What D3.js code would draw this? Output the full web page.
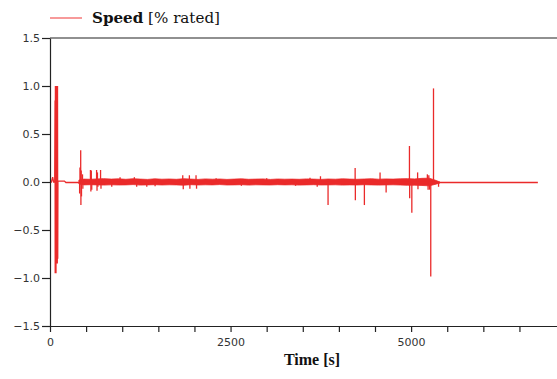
<!DOCTYPE html>
<html>
<head>
<meta charset="utf-8">
<script src="https://cdn.jsdelivr.net/npm/d3@7"></script>
<style>
  html, body { margin: 0; padding: 0; background: #fff; }
  svg { display: block; }
</style>
</head>
<body>
<svg id="chart" width="557" height="379"></svg>
<script>
// ---------------- DATA ----------------
const yTickValues = [-1.5, -1.0, -0.5, 0.0, 0.5, 1.0, 1.5];
const xTickValues = [0, 500, 1000, 1500, 2000, 2500, 3000, 3500, 4000, 4500, 5000, 5500, 6000, 6500];
const xLabelValues = [0, 2500, 5000];
const seriesName = "Speed";
const seriesUnit = "[% rated]";
const xTitle = "Time";
const xUnit = "[s]";

// main trace (time in s, speed in % rated): start-up transient and idle tail
const traceTime = [0, 20, 37, 50, 65, 70, 72, 75, 78, 80, 83, 86, 89, 92, 95, 98, 101, 104, 107, 110,
  130, 200, 220, 400, 5380, 5400, 6755];
const traceSpeed = [0, 0, 0.05, 0, 0, 0.85, -0.95, 1.0, -0.9, 0.98, -0.95, 1.0, -0.85, 0.98, -0.85, 0.9, -0.85, 1.0, -0.8, 0.01,
  0.01, 0.01, -0.005, -0.005, -0.005, -0.005, -0.005];

// envelope of the fast speed ripple during operation
const bandTime = [400, 470, 560, 650, 740, 850, 950, 1050, 1150, 1250, 1350, 1450, 1550, 1650, 1750, 1850,
  1950, 2050, 2150, 2250, 2350, 2450, 2550, 2650, 2750, 2850, 2950, 3050, 3150, 3250, 3350, 3450,
  3550, 3650, 3750, 3850, 3950, 4050, 4150, 4250, 4350, 4450, 4550, 4650, 4750, 4850, 4950, 5050,
  5150, 5250, 5330, 5400];
const bandUpper = [0.02, 0.03, 0.028, 0.032, 0.035, 0.03, 0.033, 0.028, 0.034, 0.03, 0.027, 0.033, 0.029, 0.031, 0.028, 0.034,
  0.03, 0.027, 0.032, 0.029, 0.031, 0.027, 0.03, 0.033, 0.028, 0.03, 0.032, 0.027, 0.031, 0.029, 0.03, 0.028,
  0.032, 0.03, 0.027, 0.031, 0.029, 0.033, 0.03, 0.028, 0.031, 0.034, 0.029, 0.032, 0.03, 0.033, 0.035, 0.032,
  0.038, 0.04, 0.02, 0.0];
const bandLower = [-0.02, -0.03, -0.028, -0.03, -0.032, -0.029, -0.031, -0.03, -0.027, -0.032, -0.03, -0.028, -0.031, -0.029, -0.03, -0.033,
  -0.028, -0.031, -0.029, -0.03, -0.027, -0.031, -0.03, -0.028, -0.032, -0.029, -0.03, -0.031, -0.028, -0.03, -0.029, -0.032,
  -0.03, -0.028, -0.031, -0.03, -0.029, -0.032, -0.03, -0.031, -0.028, -0.03, -0.032, -0.03, -0.029, -0.031, -0.034, -0.033,
  -0.036, -0.04, -0.025, -0.01];

// individual speed excursions
const spikeTime = [410, 415, 425, 428, 432, 436, 450, 455,
  560, 566, 572, 578, 645, 651, 657, 663, 700, 706,
  855, 970, 1168, 1200, 1340, 1455,
  1838, 1845, 1930, 1937, 2022, 2029,
  2300, 2650, 3000, 3400, 3600, 3700, 3745,
  3850, 4225, 4228, 4353, 4570, 4654,
  4977, 4980, 5010, 5090, 5095, 5225, 5235, 5245, 5255,
  5272, 5310, 5380];
const spikeSpeed = [-0.12, 0.15, 0.33, -0.24, 0.12, -0.15, 0.08, -0.07,
  0.125, -0.1, 0.12, -0.08, 0.125, -0.09, 0.1, -0.05, 0.125, -0.07,
  -0.05, 0.05, 0.05, -0.05, -0.05, -0.045,
  0.07, -0.076, 0.07, -0.07, 0.07, -0.07,
  0.04, -0.04, 0.04, -0.04, 0.045, -0.05, 0.06,
  -0.24, 0.145, -0.19, -0.24, 0.1, -0.11,
  0.375, -0.17, -0.32, 0.1, -0.076, 0.08, -0.08, 0.07, -0.08,
  -0.985, 0.975, -0.05];

// ---------------- CHART ----------------
const svg = d3.select("#chart");
const lineColor = "#ea2a2a";

const x = d3.scaleLinear().domain([0, 7020]).range([50, 557]);
const y = d3.scaleLinear().domain([-1.5, 1.5]).range([326, 38]);

// top frame line
svg.append("line")
  .attr("x1", x(0)).attr("x2", 557)
  .attr("y1", y(1.5)).attr("y2", y(1.5))
  .attr("stroke", "#222").attr("stroke-width", 1.2);

const plot = svg.append("g");

// ripple band
const band = bandTime.map((t, i) => ({t, hi: bandUpper[i], lo: bandLower[i]}));
plot.append("path")
  .datum(band)
  .attr("fill", lineColor)
  .attr("stroke", lineColor)
  .attr("stroke-width", 0.8)
  .attr("d", d3.area().x(d => x(d.t)).y0(d => y(d.lo)).y1(d => y(d.hi)));

// main trace
const trace = traceTime.map((t, i) => [t, traceSpeed[i]]);
plot.append("path")
  .datum(trace)
  .attr("fill", "none")
  .attr("stroke", lineColor)
  .attr("stroke-width", 1.3)
  .attr("d", d3.line().x(d => x(d[0])).y(d => y(d[1])));

// spikes
const spikes = spikeTime.map((t, i) => ({t, v: spikeSpeed[i]}));
plot.selectAll("line.spike")
  .data(spikes)
  .join("line")
  .attr("class", "spike")
  .attr("x1", d => x(d.t)).attr("x2", d => x(d.t))
  .attr("y1", y(0)).attr("y2", d => y(d.v))
  .attr("stroke", lineColor)
  .attr("stroke-width", 1.3);

// axes
const yAxis = d3.axisLeft(y)
  .tickValues(yTickValues)
  .tickFormat(d3.format(".1f"))
  .tickSize(8).tickPadding(2).tickSizeOuter(0);
const gy = svg.append("g").attr("transform", `translate(${x(0)},0)`).call(yAxis);

const xAxis = d3.axisBottom(x)
  .tickValues(xTickValues)
  .tickFormat(d => xLabelValues.includes(d) ? d : "")
  .tickSize(6).tickPadding(6).tickSizeOuter(0);
const gx = svg.append("g").attr("transform", `translate(0,${y(-1.5)})`).call(xAxis);

[gx, gy].forEach(g => {
  g.select(".domain").attr("stroke", "#222").attr("stroke-width", 1.2);
  g.selectAll(".tick line").attr("stroke", "#222").attr("stroke-width", 1.2);
  g.selectAll(".tick text")
    .attr("fill", "#333")
    .style("font-family", "'DejaVu Sans', Verdana, sans-serif")
    .style("font-size", "11px");
});
gy.selectAll(".tick text").attr("dy", "0.34em");

// x axis title
const xt = svg.append("text")
  .attr("x", 312).attr("y", 365)
  .attr("text-anchor", "middle")
  .style("font-family", "'Liberation Serif', 'Times New Roman', serif")
  .style("font-size", "16px")
  .style("font-weight", "bold")
  .attr("fill", "#111");
xt.append("tspan").text(xTitle + " ");
xt.append("tspan").text(xUnit);

// legend
svg.append("line")
  .attr("x1", 50).attr("x2", 82)
  .attr("y1", 18).attr("y2", 18)
  .attr("stroke", "#f04848").attr("stroke-width", 1.1);
const lt = svg.append("text")
  .attr("x", 92).attr("y", 23)
  .style("font-family", "'DejaVu Serif', serif")
  .style("font-size", "15px")
  .attr("fill", "#111");
lt.append("tspan").style("font-weight", "bold").text(seriesName);
lt.append("tspan").text(" " + seriesUnit);
// fit legend text to the width measured in the reference
const lw = lt.node().getComputedTextLength();
if (lw > 0) lt.style("font-size", (15 * 128 / lw).toFixed(2) + "px");
</script>
</body>
</html>
